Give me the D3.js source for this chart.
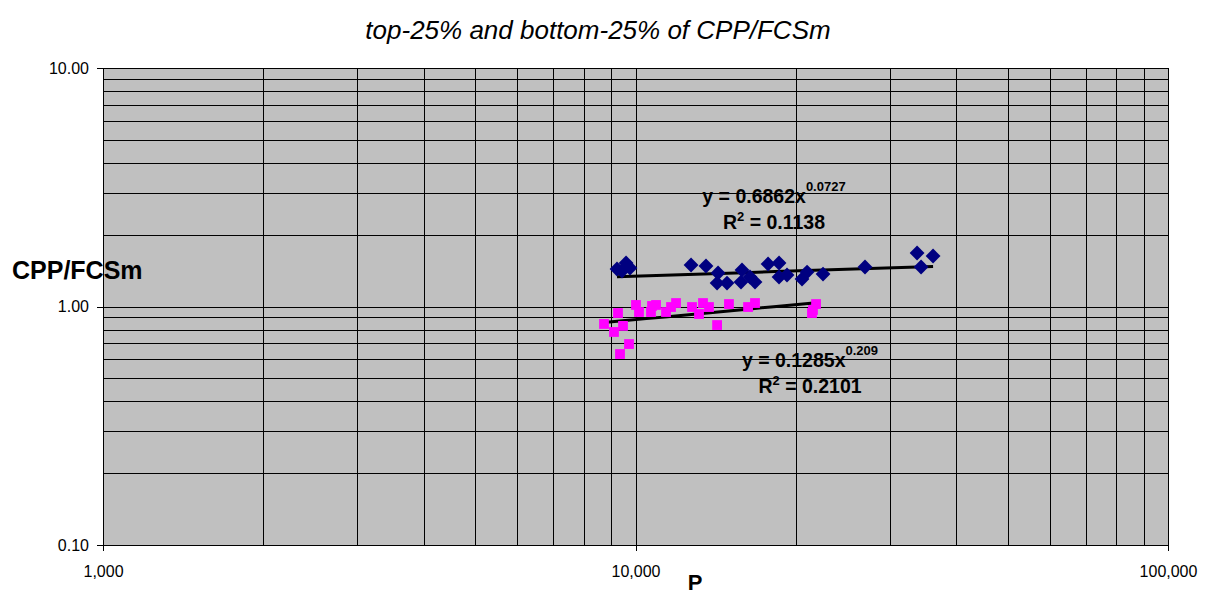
<!DOCTYPE html>
<html><head><meta charset="utf-8">
<script src="https://cdn.jsdelivr.net/npm/d3@7"></script>
<style>body{margin:0;background:#fff}svg{display:block;font-family:"Liberation Sans",Arial,sans-serif}</style>
</head><body><svg id="c" width="1207" height="595"></svg>
<script>
const title = "top-25% and bottom-25% of CPP/FCSm";
const xLabel = "P";
const yLabel = "CPP/FCSm";
const xTickValues = [1000, 10000, 100000];
const xTickLabels = ["1,000", "10,000", "100,000"];
const yTickValues = [0.1, 1, 10];
const yTickLabels = ["0.10", "1.00", "10.00"];

// top-25% (blue diamonds)
const topP = [9232, 9434, 9600, 9765, 12715, 13563, 14290, 14230, 14855, 15850, 15781, 16406, 16766, 17740, 18602, 18602, 19255, 20546, 21000, 22500, 26977, 33790, 36210, 34380];
const topV = [1.436, 1.409, 1.522, 1.450, 1.493, 1.479, 1.382, 1.254, 1.254, 1.422, 1.266, 1.329, 1.266, 1.507, 1.522, 1.329, 1.355, 1.304, 1.394, 1.368, 1.464, 1.676, 1.628, 1.464];
// bottom-25% (magenta squares)
const botP = [8727, 9271, 9111, 9474, 9723, 9352, 10021, 10152, 10693, 10740, 10928, 11411, 11660, 11915, 12768, 13160, 13390, 13740, 14230, 14980, 16270, 16766, 21450, 21830, 21540];
const botV = [0.845, 0.939, 0.782, 0.829, 0.696, 0.632, 1.015, 0.948, 0.948, 1.005, 1.015, 0.948, 0.995, 1.034, 0.995, 0.930, 1.034, 0.995, 0.836, 1.024, 0.995, 1.034, 0.939, 1.024, 0.967];

// power trend lines y = a * x^b
const trendA = [0.6862, 0.1285];
const trendB = [0.0727, 0.209];
const trendEq = [["y = 0.6862x", "0.0727"], ["y = 0.1285x", "0.209"]];
const trendR2 = ["0.1138", "0.2101"];

const svg = d3.select("#c");
const L = 103, R = 1168, T = 68, B = 545;
const x = d3.scaleLog().domain([1000, 100000]).range([L, R]);
const y = d3.scaleLog().domain([0.1, 10]).range([B, T]);

svg.append("rect").attr("x", L).attr("y", T).attr("width", R - L).attr("height", B - T).attr("fill", "#C0C0C0");

// grid
const xGrid = [], yGrid = [];
[1000, 10000].forEach(d => { for (let k = 1; k <= 9; k++) xGrid.push(k * d); });
xGrid.push(100000);
[0.1, 1].forEach(d => { for (let k = 1; k <= 9; k++) yGrid.push(k * d); });
yGrid.push(10);
const g = svg.append("g").attr("stroke", "#000").attr("stroke-width", 1).attr("shape-rendering", "crispEdges");
g.selectAll(".vx").data(xGrid).join("line").attr("x1", d => Math.round(x(d)) + 0.5).attr("x2", d => Math.round(x(d)) + 0.5).attr("y1", T).attr("y2", B);
g.selectAll(".hy").data(yGrid).join("line").attr("y1", d => Math.round(y(d)) + 0.5).attr("y2", d => Math.round(y(d)) + 0.5).attr("x1", L).attr("x2", R);

// axes
const xAxis = d3.axisBottom(x).tickValues(xTickValues).tickFormat((d, i) => xTickLabels[i]).tickSize(6).tickPadding(8);
const yAxis = d3.axisLeft(y).tickValues(yTickValues).tickFormat((d, i) => yTickLabels[i]).tickSize(6).tickPadding(8);
const gx = svg.append("g").attr("transform", `translate(0,${B})`).call(xAxis);
const gy = svg.append("g").attr("transform", `translate(${L},0)`).call(yAxis);
[gx, gy].forEach(a => {
  a.select(".domain").remove();
  a.selectAll("line").attr("stroke", "#000").attr("shape-rendering", "crispEdges");
  a.selectAll("text").attr("font-size", 16).attr("fill", "#000").attr("font-family", "Liberation Sans, Arial, sans-serif");
});
gx.selectAll("text").attr("dy", "1.1em");

// trend lines
const series = [[topP, topV], [botP, botV]];
const line = d3.line().x(d => x(d[0])).y(d => y(d[1]));
series.forEach((s, i) => {
  const xs = s[0];
  const lo = d3.min(xs), hi = d3.max(xs);
  const pts = d3.range(0, 11).map(k => { const xv = lo * Math.pow(hi / lo, k / 10); return [xv, trendA[i] * Math.pow(xv, trendB[i])]; });
  svg.append("path").attr("d", line(pts)).attr("fill", "none").attr("stroke", "#000").attr("stroke-width", 3);
});

// markers
const diamond = d3.symbol().type(d3.symbolSquare).size(110);
svg.append("g").selectAll("path").data(topP.map((p, i) => [p, topV[i]])).join("path")
  .attr("d", diamond).attr("transform", d => `translate(${x(d[0])},${y(d[1])}) rotate(45)`).attr("fill", "#000080");
const square = d3.symbol().type(d3.symbolSquare).size(96);
svg.append("g").selectAll("path").data(botP.map((p, i) => [p, botV[i]])).join("path")
  .attr("d", square).attr("transform", d => `translate(${x(d[0])},${y(d[1])})`).attr("fill", "#FF00FF");

// trend labels
const labelPos = [[774, 203, 229], [810, 367, 393]];
labelPos.forEach((p, i) => {
  const t1 = svg.append("text").attr("x", p[0]).attr("y", p[1]).attr("text-anchor", "middle").attr("font-weight", "bold").attr("font-size", 19.5);
  t1.append("tspan").text(trendEq[i][0]);
  t1.append("tspan").attr("dy", -12).attr("font-size", 13).text(trendEq[i][1]);
  const t2 = svg.append("text").attr("x", p[0]).attr("y", p[2]).attr("text-anchor", "middle").attr("font-weight", "bold").attr("font-size", 19.5);
  t2.append("tspan").text("R");
  t2.append("tspan").attr("dy", -8).attr("font-size", 13).text("2");
  t2.append("tspan").attr("dy", 8).text(" = " + trendR2[i]);
});

// titles
svg.append("text").attr("x", 598).attr("y", 39).attr("text-anchor", "middle").attr("font-style", "italic").attr("font-size", 26).text(title);
svg.append("text").attr("x", 12).attr("y", 279).attr("font-weight", "bold").attr("font-size", 25).text(yLabel);
svg.append("text").attr("x", 695).attr("y", 590).attr("text-anchor", "middle").attr("font-weight", "bold").attr("font-size", 22).text(xLabel);
</script></body></html>
